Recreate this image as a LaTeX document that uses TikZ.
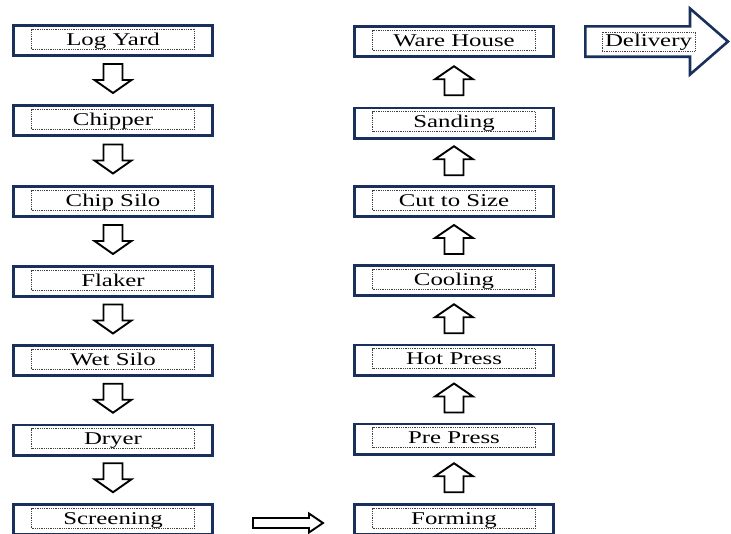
\documentclass[tikz,border=0pt]{standalone}
\usepackage{fontspec}
\setmainfont{Liberation Serif}
\usepackage{graphicx}
\usetikzlibrary{calc}
\definecolor{navy}{RGB}{25,48,92}
\begin{document}
\begin{tikzpicture}[x=1pt,y=-1pt,
  procbox/.style={draw=navy,line width=2.6pt,minimum width=199.4pt,minimum height=30.4pt,inner sep=0pt,fill=white},
  dotbox/.style={draw=black!75,densely dotted,line width=0.8pt,minimum width=163pt,minimum height=20pt,inner sep=0pt},
  lbl/.style={font=\fontsize{18}{20}\selectfont,inner sep=0pt,anchor=base,text=black},
  blk/.style={draw=black,line width=1.9pt,fill=white,line join=miter},
  downarr/.pic={\draw[blk] (-9.5,-14.5) -- (-9.5,1.5) -- (-18.5,1.5) -- (0,14.5) -- (18.5,1.5) -- (9.5,1.5) -- (9.5,-14.5) -- cycle;},
  uparr/.pic={\draw[blk] (-9.5,14.5) -- (-9.5,-1.5) -- (-19,-1.5) -- (0,-14.5) -- (19,-1.5) -- (9.5,-1.5) -- (9.5,14.5) -- cycle;},
  rightarr/.pic={\draw[blk] (-35,-5) -- (21,-5) -- (21,-9.5) -- (35,0) -- (21,9.5) -- (21,5) -- (-35,5) -- cycle;}
]
\useasboundingbox (0,0) rectangle (731,533);
% left column
\foreach \t/\y [count=\i] in {Log Yard/40.5, Chipper/120.5, Chip Silo/201.5, Flaker/281.5, Wet Silo/360.5, Dryer/440, Screening/519.5}{
  \node[procbox] (L\i) at (113,\y) {};
  \node[dotbox] (L\i in) at ([yshift=1.5pt]L\i.center) {};
  \node[lbl] (L\i t) at ([yshift=-4.5pt]L\i.center) {\scalebox{1.38}[1]{\t}};
}
% right column (top to bottom)
\foreach \t/\y [count=\i] in {Ware House/41.5, Sanding/123, Cut to Size/201.5, Cooling/280.5, Hot Press/360, Pre Press/439, Forming/519.5}{
  \node[procbox] (R\i) at (454,\y) {};
  \node[dotbox] (R\i in) at ([yshift=1.5pt]R\i.center) {};
  \node[lbl] (R\i t) at ([yshift=-4.5pt]R\i.center) {\scalebox{1.38}[1]{\t}};
}
% down arrows
\foreach \i [evaluate=\i as \j using int(\i+1)] in {1,...,6}{
  \pic at ($(L\i)!0.5!(L\j)+(0,-2)$) {downarr};
}
% up arrows
\foreach \i [evaluate=\i as \j using int(\i+1)] in {1,...,6}{
  \pic at ($(R\i)!0.5!(R\j)+(0,-1.5)$) {uparr};
}
% right arrow from Screening to Forming
\pic at ($(L7.east)!0.5!(R7.west)+(4.5,3.5)$) {rightarr};
% Delivery block arrow
\draw[draw=navy,line width=2.6pt,fill=white,line join=miter]
  (585.3,26.3) -- (690,26.3) -- (690,8.5) -- (728,41.5) -- (690,74.5) -- (690,56.7) -- (585.3,56.7) -- cycle;
\coordinate (deliv) at (648.5,41.5);
\node[dotbox,minimum width=93pt,minimum height=19pt] (deliv in) at (648.5,41.5) {};
\node[lbl] (deliv t) at (648.5,46.5) {\scalebox{1.38}[1]{Delivery}};
\end{tikzpicture}
\end{document}
